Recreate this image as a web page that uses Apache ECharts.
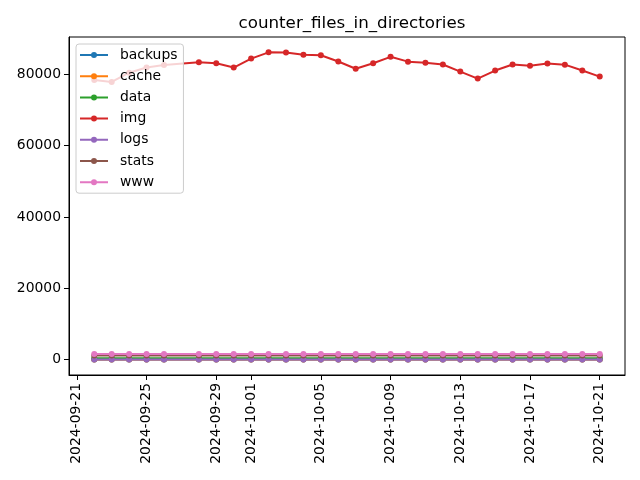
<!DOCTYPE html>
<html>
<head>
<meta charset="utf-8">
<script src="https://cdn.jsdelivr.net/npm/echarts@6/dist/echarts.min.js"></script>
<style>html,body{margin:0;padding:0;background:#fff}#chart{width:640px;height:480px}</style>
</head>
<body>
<div id="chart"></div>
<script>
var chartTitle = 'counter_files_in_directories';
var dates = ['2024-09-22','2024-09-23','2024-09-24','2024-09-25','2024-09-26',
  '2024-09-28','2024-09-29','2024-09-30','2024-10-01','2024-10-02','2024-10-03',
  '2024-10-04','2024-10-05','2024-10-06','2024-10-07','2024-10-08','2024-10-09',
  '2024-10-10','2024-10-11','2024-10-12','2024-10-13','2024-10-14','2024-10-15',
  '2024-10-16','2024-10-17','2024-10-18','2024-10-19','2024-10-20','2024-10-21'];
var seriesNames = ['backups','cache','data','img','logs','stats','www'];
var backups = [5,5,5,5,5,5,5,5,5,5,5,5,5,5,5,5,5,5,5,5,5,5,5,5,5,5,5,5,5];
var cache = [20,20,20,20,20,20,20,20,20,20,20,20,20,20,20,20,20,20,20,20,20,20,20,20,20,20,20,20,20];
var data = [420,420,420,420,420,420,420,420,420,420,420,420,420,420,420,420,420,420,420,420,420,420,420,420,420,420,420,420,420];
var img = [78400,77850,80450,81900,82600,83350,83100,81900,84400,86150,86100,85450,85350,
  83600,81550,83100,84900,83550,83250,82750,80750,78800,81050,82750,82400,83000,82700,81050,79350];
var logs = [10,10,10,10,10,10,10,10,10,10,10,10,10,10,10,10,10,10,10,10,10,10,10,10,10,10,10,10,10];
var stats = [1150,1150,1150,1150,1150,1150,1150,1150,1150,1150,1150,1150,1150,1150,1150,1150,1150,1150,1150,1150,1150,1150,1150,1150,1150,1150,1150,1150,1150];
var www = [1550,1550,1550,1550,1550,1550,1550,1550,1550,1550,1550,1550,1550,1550,1550,1550,1550,1550,1550,1550,1550,1550,1550,1550,1550,1550,1550,1550,1550];
var xTickLabels = ['2024-09-21','2024-09-25','2024-09-29','2024-10-01','2024-10-05',
  '2024-10-09','2024-10-13','2024-10-17','2024-10-21'];
var yTickLabels = [0, 20000, 40000, 60000, 80000];
var colors = ['#1f77b4','#ff7f0e','#2ca02c','#d62728','#9467bd','#8c564b','#e377c2'];

function ts(s){ var p = s.split('-'); return Date.UTC(+p[0], +p[1]-1, +p[2]); }
function fmt(v){ var d = new Date(v); var m = d.getUTCMonth()+1, dd = d.getUTCDate();
  return d.getUTCFullYear() + '-' + (m<10?'0':'') + m + '-' + (dd<10?'0':'') + dd; }

var valuesList = [backups, cache, data, img, logs, stats, www];
var xFirst = ts(dates[0]), xLast = ts(dates[dates.length-1]);
var xPad = (xLast - xFirst) * 0.05;
var yMaxData = Math.max.apply(null, img), yMinData = 0;
var yPad = (yMaxData - yMinData) * 0.05;

var font = 'DejaVu Sans';
var series = seriesNames.map(function(name, i){
  return {
    name: name, type: 'line',
    data: dates.map(function(d, j){ return [ts(d), valuesList[i][j]]; }),
    symbol: 'circle', symbolSize: 6, showSymbol: true,
    lineStyle: {width: 2, color: colors[i]},
    itemStyle: {color: colors[i]},
    emphasis: {disabled: true},
    animation: false,
    z: 2 + i
  };
});

var legendIcon = 'path://M0,6 L28,6 L28,8 L0,8 Z M11,7 a3,3 0 1,1 6,0 a3,3 0 1,1 -6,0 Z';

var chart = echarts.init(document.getElementById('chart'), null, {renderer: 'canvas'});
chart.setOption({
  animation: false,
  backgroundColor: '#fff',
  color: colors,
  title: {
    text: chartTitle, left: 347, top: 10, textAlign: 'center',
    textStyle: {fontFamily: font, fontSize: 16.7, fontWeight: 'normal', color: '#000'}
  },
  legend: {
    orient: 'vertical', left: 76, top: 44,
    padding: [4, 6, 4, 4], itemGap: 7.2, itemWidth: 28, itemHeight: 14,
    backgroundColor: 'rgba(255,255,255,0.8)', borderColor: '#cccccc', borderWidth: 1, borderRadius: 3,
    textStyle: {fontFamily: font, fontSize: 13.9, color: '#000', padding: [0, 0, 0, 7]},
    z: 20,
    data: seriesNames.map(function(n){ return {name: n, icon: legendIcon}; })
  },
  grid: {left: 69, right: 15, top: 37, bottom: 105, show: true, borderColor: '#000', borderWidth: 1, backgroundColor: 'transparent'},
  xAxis: {
    type: 'value', min: xFirst - xPad, max: xLast + xPad,
    splitLine: {show: false},
    axisLine: {show: true, onZero: false, lineStyle: {color: '#000', width: 1}},
    axisTick: {show: true, length: 5, lineStyle: {color: '#000'}, customValues: xTickLabels.map(ts)},
    axisLabel: {rotate: 90, margin: 8, fontFamily: font, fontSize: 13.9, color: '#000',
      customValues: xTickLabels.map(ts), formatter: function(v){ return fmt(v); }}
  },
  yAxis: {
    type: 'value', min: yMinData - yPad, max: yMaxData + yPad,
    splitLine: {show: false},
    axisLine: {show: true, onZero: false, lineStyle: {color: '#000', width: 1}},
    axisTick: {show: true, length: 5, lineStyle: {color: '#000'}, customValues: yTickLabels},
    axisLabel: {margin: 8, fontFamily: font, fontSize: 13.9, color: '#000',
      customValues: yTickLabels, formatter: function(v){ return String(v); }}
  },
  series: series
});
</script>
</body>
</html>
